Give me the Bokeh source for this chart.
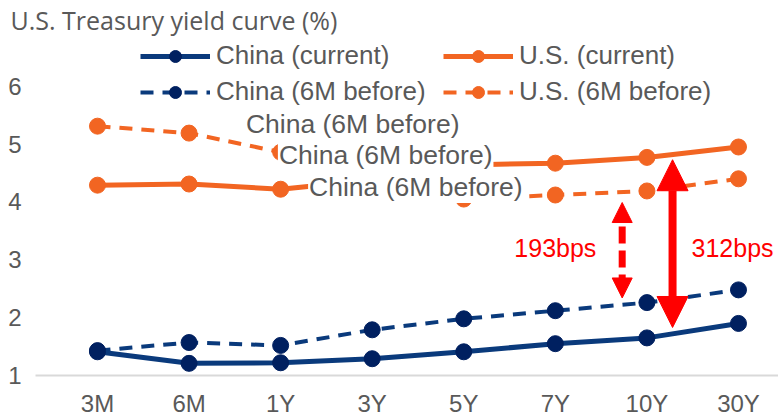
from bokeh.plotting import figure
from bokeh.models import (FixedTicker, Legend, LegendItem, Label, Arrow,
                          NormalHead, Range1d, ColumnDataSource)
from bokeh.embed import file_html
from bokeh.resources import INLINE

# ---- data -------------------------------------------------------------
tenors = ["3M", "6M", "1Y", "3Y", "5Y", "7Y", "10Y", "30Y"]
china_current = [1.41, 1.21, 1.22, 1.29, 1.41, 1.55, 1.65, 1.90]
china_6m_before = [1.43, 1.57, 1.52, 1.79, 1.98, 2.12, 2.26, 2.48]
us_current = [4.29, 4.31, 4.22, 4.38, 4.64, 4.67, 4.77, 4.95]
us_6m_before = [5.31, 5.19, 4.86, 4.45, 4.05, 4.12, 4.19, 4.40]
y_ticks = [1, 2, 3, 4, 5, 6]
title_text = "U.S. Treasury yield curve (%)"
series_names = ["China (current)", "U.S. (current)",
                "China (6M before)", "U.S. (6M before)"]
overlay_label = "China (6M before)"
spread_before_label = "193bps"
spread_now_label = "312bps"

# ---- styling ----------------------------------------------------------
NAVY_LINE = "#0a3a7c"
NAVY_MARK = "#002060"
ORANGE = "#f26522"
RED = "#ff0000"
GRAY_TXT = "#595959"
FONT = "Liberation Sans"

xs = list(range(len(tenors)))
ten_y = tenors.index("10Y")

p = figure(width=778, height=419, output_backend="svg", toolbar_location=None,
           x_range=Range1d(-0.677, 7.437), y_range=Range1d(1, 6.86),
           min_border_left=35, min_border_right=0, min_border_bottom=37,
           min_border_top=0, title=title_text)
p.outline_line_color = None
p.grid.visible = False
p.background_fill_color = "white"

p.title.text_font = "Open Sans"
p.title.text_font_size = "25px"
p.title.text_font_style = "normal"
p.title.text_color = GRAY_TXT
p.title.offset = -25
p.title.standoff = 0

# axes
p.xaxis.ticker = FixedTicker(ticks=xs)
p.xaxis.major_label_overrides = {i: t for i, t in enumerate(tenors)}
p.xaxis.major_tick_line_color = None
p.xaxis.minor_tick_line_color = None
p.xaxis.axis_line_color = "#d9d9d9"
p.xaxis.axis_line_width = 2
p.xaxis.major_label_text_font = FONT
p.xaxis.major_label_text_font_size = "24px"
p.xaxis.major_label_text_color = GRAY_TXT
p.xaxis.major_label_standoff = 8

p.yaxis.ticker = FixedTicker(ticks=y_ticks)
p.yaxis.major_tick_line_color = None
p.yaxis.minor_tick_line_color = None
p.yaxis.axis_line_color = None
p.yaxis.major_label_text_font = FONT
p.yaxis.major_label_text_font_size = "24px"
p.yaxis.major_label_text_color = GRAY_TXT
p.yaxis.major_label_standoff = 8

src = ColumnDataSource(dict(x=xs, cc=china_current, c6=china_6m_before,
                            uc=us_current, u6=us_6m_before))

DASH = "13 9"
MS = 16
r_us6_l = p.line("x", "u6", source=src, line_color=ORANGE, line_width=4, line_dash=DASH)
r_us6_m = p.scatter("x", "u6", source=src, size=MS, fill_color=ORANGE, line_color=ORANGE)
r_usc_l = p.line("x", "uc", source=src, line_color=ORANGE, line_width=5)
r_usc_m = p.scatter("x", "uc", source=src, size=MS, fill_color=ORANGE, line_color=ORANGE)
r_c6_l = p.line("x", "c6", source=src, line_color=NAVY_LINE, line_width=4, line_dash=DASH)
r_c6_m = p.scatter("x", "c6", source=src, size=MS, fill_color=NAVY_MARK, line_color=NAVY_MARK)
r_cc_l = p.line("x", "cc", source=src, line_color=NAVY_LINE, line_width=5)
r_cc_m = p.scatter("x", "cc", source=src, size=MS, fill_color=NAVY_MARK, line_color=NAVY_MARK)

legend = Legend(items=[
    LegendItem(label=series_names[0], renderers=[r_cc_l, r_cc_m]),
    LegendItem(label=series_names[2], renderers=[r_c6_l, r_c6_m]),
    LegendItem(label=series_names[1], renderers=[r_usc_l, r_usc_m]),
    LegendItem(label=series_names[3], renderers=[r_us6_l, r_us6_m]),
], ncols=2, location=(105, 268))
legend.background_fill_alpha = 0
legend.border_line_color = None
legend.padding = 0
legend.margin = 0
legend.spacing = 5
legend.glyph_width = 70
legend.glyph_height = 30
legend.label_height = 30
legend.label_width = 222
legend.label_standoff = 6
legend.label_text_font = FONT
legend.label_text_font_size = "26px"
legend.label_text_color = GRAY_TXT
p.add_layout(legend, "center")

# overlay labels (white boxes hiding part of the curves)
label_pos = [(1.61, 5.34), (1.97, 4.81), (2.30, 4.26)]
for lx, ly in label_pos:
    p.add_layout(Label(x=lx, y=ly, text=overlay_label, text_font=FONT,
                       text_font_size="26.5px", text_color=GRAY_TXT,
                       text_baseline="middle", text_align="left",
                       background_fill_color="white", padding=1))

# spread arrows
x_now = ten_y + 0.28
p.add_layout(Arrow(x_start=x_now, y_start=us_current[ten_y] - 0.04,
                   x_end=x_now, y_end=china_current[ten_y] + 0.18,
                   line_color=RED, line_width=8,
                   start=NormalHead(size=31, fill_color=RED, line_color=RED),
                   end=NormalHead(size=31, fill_color=RED, line_color=RED)))
x_before = ten_y - 0.27
p.add_layout(Arrow(x_start=x_before, y_start=us_6m_before[ten_y] - 0.2,
                   x_end=x_before, y_end=china_6m_before[ten_y] + 0.08,
                   line_color=RED, line_width=7, line_dash="17 7",
                   start=NormalHead(size=20, fill_color=RED, line_color=RED),
                   end=NormalHead(size=20, fill_color=RED, line_color=RED)))

p.add_layout(Label(x=tenors.index("7Y"), y=3.2, text=spread_before_label,
                   text_font=FONT, text_font_size="25px", text_color=RED,
                   text_align="center", text_baseline="middle"))
p.add_layout(Label(x=len(tenors) - 1 - 0.065, y=3.2, text=spread_now_label,
                   text_font=FONT, text_font_size="25px", text_color=RED,
                   text_align="center", text_baseline="middle"))

open("out.html", "w").write(file_html(p, INLINE))
